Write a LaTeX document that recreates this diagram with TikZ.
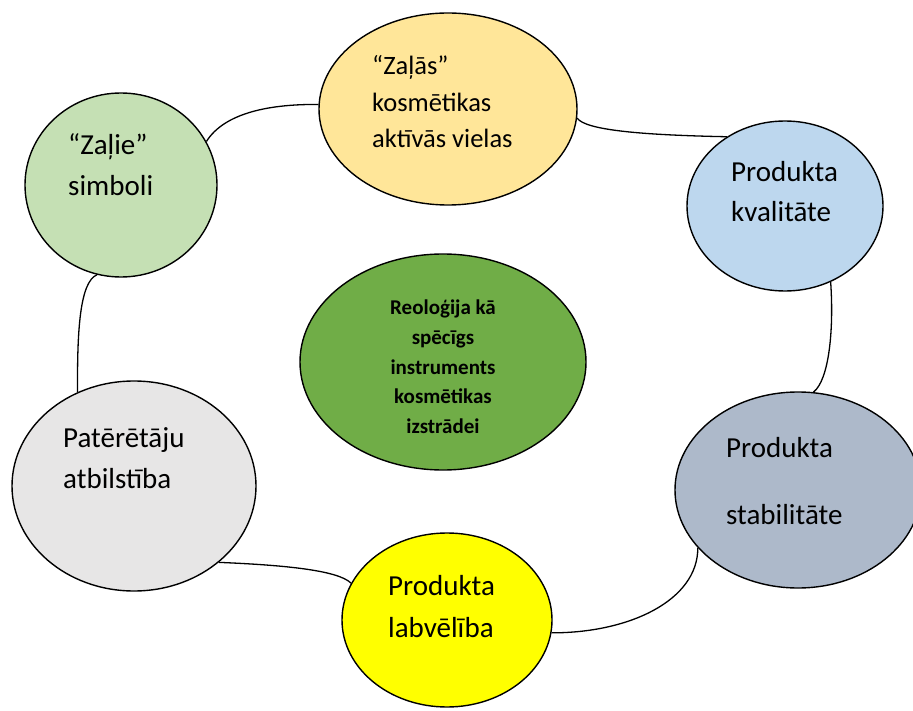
\documentclass[tikz,border=0pt]{standalone}
\usepackage{fontspec}
\setmainfont{Carlito}
\usetikzlibrary{shapes.geometric}
\definecolor{cGreenL}{HTML}{C5E0B4}
\definecolor{cOrange}{HTML}{FFE699}
\definecolor{cBlue}{HTML}{BDD7EE}
\definecolor{cGreen}{HTML}{70AD47}
\definecolor{cGray}{HTML}{E7E6E6}
\definecolor{cSlate}{HTML}{ADB9CA}
\definecolor{cYellow}{HTML}{FFFF00}
\tikzset{
  bubble/.style={ellipse, draw=black, line width=1.4pt, inner sep=0pt},
  lbl/.style={anchor=base west, inner sep=0pt, font=\fontsize{29}{35}\selectfont},
  lblo/.style={anchor=base west, inner sep=0pt, font=\fontsize{26.5}{32}\selectfont},
  lblc/.style={anchor=base, inner sep=0pt, font=\fontsize{21}{25}\selectfont\bfseries},
  link/.style={draw=black, line width=1.3pt}
}
\begin{document}
\begin{tikzpicture}[x=1pt,y=-1pt]
\clip (0,0) rectangle (913,711);
\fill[white] (0,0) rectangle (913,711);
% ellipses
\node[bubble, fill=cGreenL, minimum width=192pt, minimum height=184pt] (g) at (121,185) {};
\node[bubble, fill=cOrange, minimum width=258pt, minimum height=192pt] (o) at (448,109) {};
\node[bubble, fill=cBlue, minimum width=196pt, minimum height=170pt] (b) at (785,206) {};
\node[bubble, fill=cGreen, minimum width=286pt, minimum height=216pt] (c) at (443,362) {};
\node[bubble, fill=cGray, minimum width=244pt, minimum height=210pt] (p) at (134,486) {};
\node[bubble, fill=cSlate, minimum width=246pt, minimum height=196pt] (s) at (798,490) {};
\node[bubble, fill=cYellow, minimum width=210pt, minimum height=174pt] (y) at (447,620) {};
% connectors
\draw[link] (g.27) .. controls (225,112) and (272,104) .. (o.178);
\draw[link] (o.-4) .. controls (585,130) and (640,135) .. (b.130);
\draw[link] (b.-59) .. controls (834,330) and (829,380) .. (s.81);
\draw[link] (s.210) .. controls (698,600) and (630,633) .. (y.-7);
\draw[link] (y.159) .. controls (338,570) and (282,565) .. (p.-42.6);
\draw[link] (p.121) .. controls (77,330) and (80,282) .. (g.255);
% texts
\node[lbl] (g1) at (68,155) {“Zaļie”};
\node[lbl] (g2) at (68,196) {simboli};
\node[lblo] (o1) at (372,75) {“Zaļās”};
\node[lblo] (o2) at (372,112) {kosmētikas};
\node[lblo] (o3) at (372,148) {aktīvās vielas};
\node[lbl] (b1) at (731,182) {Produkta};
\node[lbl] (b2) at (731,222) {kvalitāte};
\node[lblc] (c1) at (443,315) {Reoloģija kā};
\node[lblc] (c2) at (443,344.5) {spēcīgs};
\node[lblc] (c3) at (443,374) {instruments};
\node[lblc] (c4) at (443,403.5) {kosmētikas};
\node[lblc] (c5) at (443,433) {izstrādei};
\node[lbl] (p1) at (63,447) {Patērētāju};
\node[lbl] (p2) at (63,488) {atbilstība};
\node[lbl] (s1) at (726,457) {Produkta};
\node[lbl] (s2) at (726,524) {stabilitāte};
\node[lbl] (y1) at (388,595) {Produkta};
\node[lbl] (y2) at (388,637) {labvēlība};
\end{tikzpicture}
\end{document}
